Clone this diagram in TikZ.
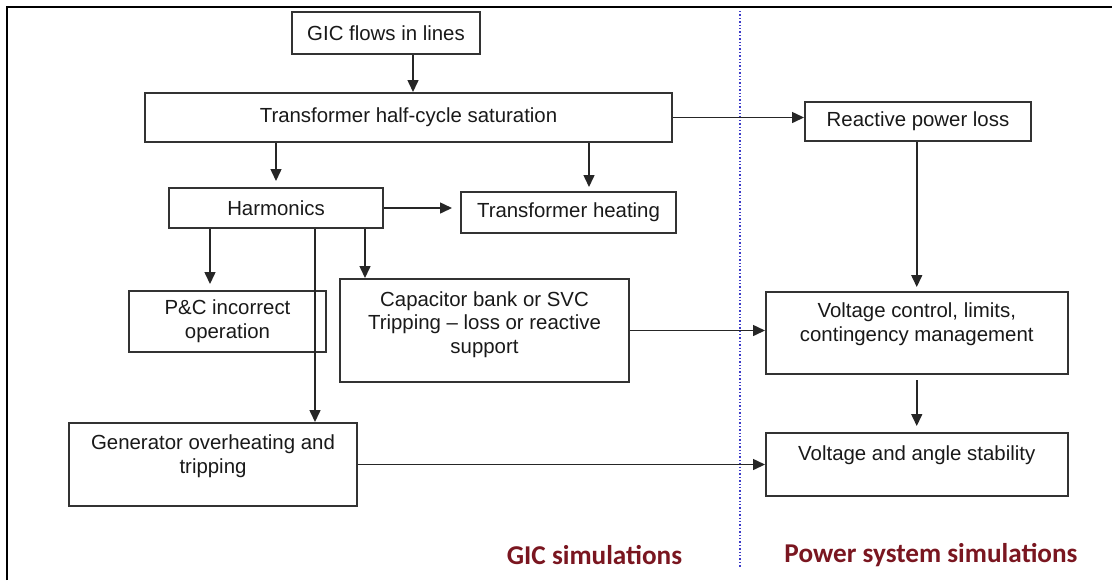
\documentclass[tikz,border=0pt]{standalone}
\usepackage{fontspec}
\setmainfont{Liberation Sans}
\newfontfamily\simfont{Carlito}
\usetikzlibrary{arrows.meta}
\definecolor{simred}{RGB}{122,22,32}
\definecolor{sepblue}{RGB}{60,60,200}
\tikzset{
  blk/.style={draw=black!80, line width=1pt, inner sep=2pt, align=center, text=black!90, font=\fontsize{10.2}{11.8}\selectfont},
  arr/.style={draw=black!85, line width=0.75pt, -{Triangle[length=6pt,width=5.5pt]}},
  simlbl/.style={font=\simfont\bfseries\fontsize{13.6}{16}\selectfont, text=simred},
  sepline/.style={draw=sepblue, line width=0.7pt, densely dotted}
}

\begin{document}
\begin{tikzpicture}[x=0.5pt,y=-0.5pt]
\useasboundingbox (0,0) rectangle (1112,580);
\draw[line width=1pt] (7,580) -- (7,7) -- (1112,7);
% GIC side
\node[blk, minimum width=94pt, minimum height=21pt] (gic) at (386,33) {GIC flows in lines};
\node[blk, minimum width=263.5pt, minimum height=24.5pt] (sat) at (408.5,117.5) {Transformer half-cycle saturation};
\node[blk, minimum width=107pt, minimum height=20pt] (harm) at (276,208) {Harmonics};
\node[blk, minimum width=107.5pt, minimum height=20.5pt] (heat) at (568.5,212.5) {Transformer heating};
\node[blk, minimum width=98.5pt, minimum height=30.5pt] (pc) at (227.5,321.5) {P\&C incorrect\\operation};
\node[blk, minimum width=144.5pt, minimum height=51.5pt] (cap) at (484.5,330.5) {Capacitor bank or SVC\\Tripping -- loss or reactive\\support\\[-3.6pt]~};
\node[blk, minimum width=144pt, minimum height=41.5pt] (gen) at (213,464.5) {Generator overheating and\\tripping\\[-1.6pt]~};
% power system side
\node[blk, minimum width=113pt, minimum height=19.5pt] (rpl) at (918,121.5) {Reactive power loss};
\node[blk, minimum width=150.75pt, minimum height=41pt] (vc) at (916.75,333) {Voltage control, limits,\\contingency management\\[-0.6pt]~};
\node[blk, minimum width=150.75pt, minimum height=31.5pt] (vas) at (916.75,464.5) {Voltage and angle stability\\~};
% divider and captions
\coordinate (septop) at (740,11);
\coordinate (sepbot) at (740,567);
\draw[sepline] (septop) -- (sepbot);
\node[simlbl] (gicsim) at (594.5,555) {GIC simulations};
\node[simlbl] (pssim) at (931,555) {Power system simulations};
% arrows
\coordinate (g0) at ([xshift=13.5pt]gic.south);
\coordinate (h1) at ([xshift=10.25pt]heat.north);
\coordinate (p1) at ([xshift=-8.75pt]pc.north);
\coordinate (c1) at ([xshift=44.5pt]harm.south);
\coordinate (g1) at ([xshift=19.5pt]harm.south);
\draw[arr] (g0) -- (g0 |- sat.north);
\draw[arr, shorten >=3pt] (sat.south -| harm.north) -- (harm.north);
\draw[arr, shorten >=2pt] (sat.south -| h1) -- (h1);
\draw[arr] (sat.east) -- (sat.east -| rpl.west);
\draw[arr, shorten >=4pt] (harm.east) -- (harm.east -| heat.west);
\draw[arr, shorten >=3pt] (harm.south -| p1) -- (p1);
\draw[arr] (c1) -- (c1 |- cap.north);
\draw[arr] (g1) -- (g1 |- gen.north);
\draw[arr, shorten >=2pt] (rpl.south -| vc.north) -- (vc.north);
\draw[arr] (cap.east) -- (cap.east -| vc.west);
\draw[arr, shorten <=2.5pt, shorten >=3pt] (vc.south) -- (vas.north);
\draw[arr] (gen.east) -- (gen.east -| vas.west);
\end{tikzpicture}
\end{document}
